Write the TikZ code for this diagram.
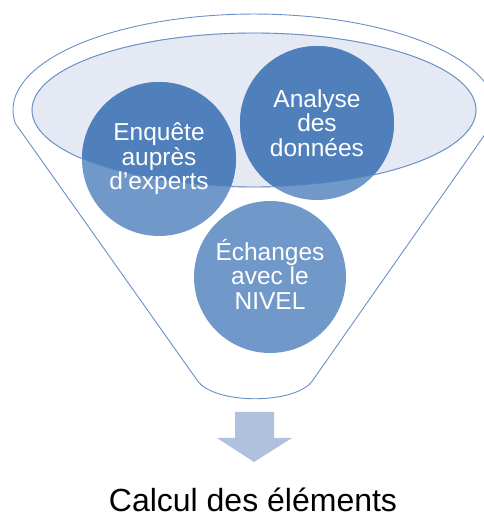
\documentclass[tikz,border=0pt]{standalone}
\usepackage{fontspec}
\setmainfont{Liberation Sans}

\definecolor{bleu}{HTML}{4F80BC}
\definecolor{bleuclair}{HTML}{7099CA}
\definecolor{fond}{HTML}{E4E9F3}
\definecolor{trait}{HTML}{6B90C6}
\definecolor{fleche}{HTML}{AFC1DD}

\tikzset{
  etape/.style={circle, minimum size=154pt, inner sep=0pt},
  texte/.style={align=center, text=white, font=\fontsize{24.5}{24.5}\selectfont},
}

\begin{document}
\begin{tikzpicture}[x=1pt, y=1pt]
    \useasboundingbox (0,0) rectangle (483,515);

    % Entonnoir
    \draw[trait, line width=0.9pt] (15.35,391.6) arc[start angle=188, end angle=-8, x radius=241, y radius=96]
        -- (313,135) .. controls (297,110) and (213,110) .. (197,135) -- cycle;

    % Ouverture
    \draw[trait, fill=fond, line width=0.9pt] (254,405) ellipse[x radius=222, y radius=77];

    % Cercles
    \node[etape, fill=bleuclair] (enquete) at (159,356) {};
    \node[etape, fill=bleuclair] (analyse) at (317,392) {};
    \node[etape, fill=bleuclair, minimum size=152pt] (echanges) at (270,238) {};

    % Partie dans l'ouverture
    \begin{scope}
        \clip (254,405) ellipse[x radius=222, y radius=77];
        \fill[bleu] (enquete) circle (77);
        \fill[bleu] (analyse) circle (77);
    \end{scope}
    \draw[trait, opacity=0.35, line width=0.9pt] (254,405) ellipse[x radius=222, y radius=77];

    % Textes
    \node[texte] at (enquete) {Enquête\\auprès\\d’experts};
    \node[texte] at (analyse) {Analyse\\des\\données};
    \node[texte] at ([yshift=3]echanges.center) {Échanges\\avec le\\NIVEL};

    % Fleche
    \fill[fleche] (235,103) -- (274,103) -- (274,77) -- (292,77) -- (254,53) -- (217,77) -- (235,77) -- cycle;

    \node[anchor=base, inner sep=0pt, font=\fontsize{32}{36}\selectfont] (resultat) at (253,3.4) {Calcul des éléments};
\end{tikzpicture}
\end{document}
